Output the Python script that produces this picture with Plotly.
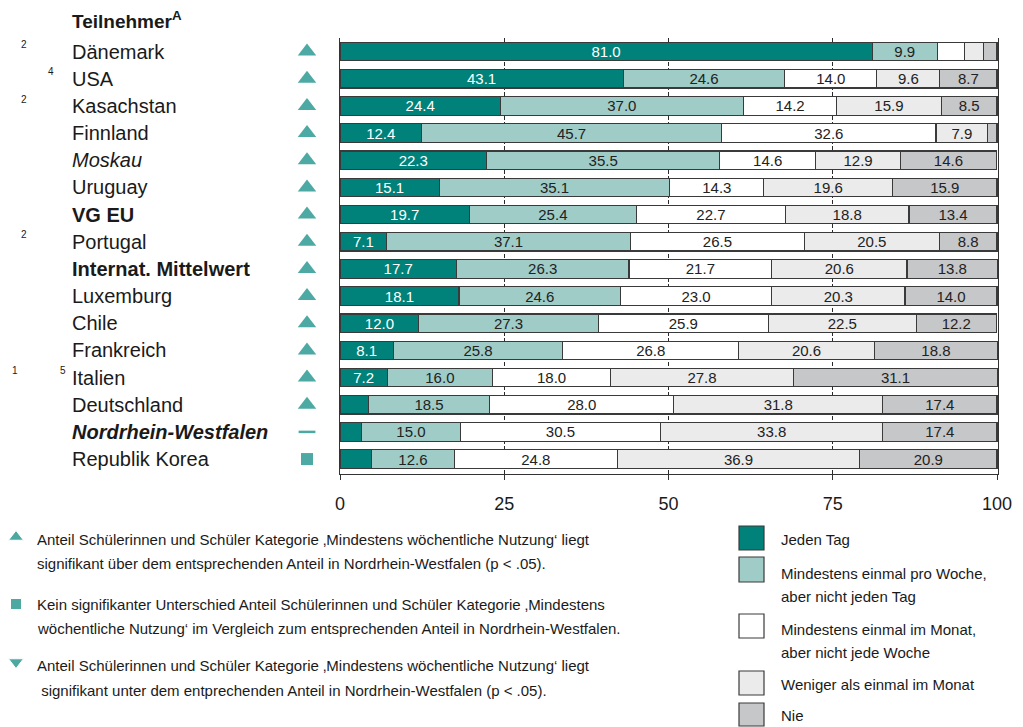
import plotly.graph_objects as go

countries = ["Dänemark", "USA", "Kasachstan", "Finnland", "Moskau", "Uruguay", "VG EU",
             "Portugal", "Internat. Mittelwert", "Luxemburg", "Chile", "Frankreich",
             "Italien", "Deutschland", "Nordrhein-Westfalen", "Republik Korea"]
label_style = ["", "", "", "", "i", "", "b", "", "b", "", "", "", "", "", "bi", ""]
foot_a = ["2", "", "2", "", "", "", "", "2", "", "", "", "", "1", "", "", ""]
foot_b = ["", "4", "", "", "", "", "", "", "", "", "", "", "5", "", "", ""]
signif = ["up", "up", "up", "up", "up", "up", "up", "up", "up", "up", "up", "up", "up", "up", "ref", "same"]

jeden_tag = [81.0, 43.1, 24.4, 12.4, 22.3, 15.1, 19.7, 7.1, 17.7, 18.1, 12.0, 8.1, 7.2, 4.3, 3.3, 4.8]
woche = [9.9, 24.6, 37.0, 45.7, 35.5, 35.1, 25.4, 37.1, 26.3, 24.6, 27.3, 25.8, 16.0, 18.5, 15.0, 12.6]
monat = [4.2, 14.0, 14.2, 32.6, 14.6, 14.3, 22.7, 26.5, 21.7, 23.0, 25.9, 26.8, 18.0, 28.0, 30.5, 24.8]
weniger = [2.9, 9.6, 15.9, 7.9, 12.9, 19.6, 18.8, 20.5, 20.6, 20.3, 22.5, 20.6, 27.8, 31.8, 33.8, 36.9]
nie = [2.0, 8.7, 8.5, 1.4, 14.6, 15.9, 13.4, 8.8, 13.8, 14.0, 12.2, 18.8, 31.1, 17.4, 17.4, 20.9]

series_names = ["Jeden Tag", "Mindestens einmal pro Woche, aber nicht jeden Tag",
                "Mindestens einmal im Monat, aber nicht jede Woche",
                "Weniger als einmal im Monat", "Nie"]
legend_lines = [["Jeden Tag"], ["Mindestens einmal pro Woche,", "aber nicht jeden Tag"],
                ["Mindestens einmal im Monat,", "aber nicht jede Woche"],
                ["Weniger als einmal im Monat"], ["Nie"]]
colors = ["#00827A", "#9FCCC7", "#FFFFFF", "#EBEBEB", "#C6C7C9"]
text_colors = ["#FFFFFF", "#222222", "#222222", "#222222", "#222222"]
x_ticks = [0, 25, 50, 75, 100]

note_texts = [
    ["Anteil Schülerinnen und Schüler Kategorie \u201aMindestens wöchentliche Nutzung\u2018 liegt",
     "signifikant über dem entsprechenden Anteil in Nordrhein-Westfalen (p < .05)."],
    ["Kein signifikanter Unterschied Anteil Schülerinnen und Schüler Kategorie \u201aMindestens",
     "wöchentliche Nutzung\u2018 im Vergleich zum entsprechenden Anteil in Nordrhein-Westfalen."],
    ["Anteil Schülerinnen und Schüler Kategorie \u201aMindestens wöchentliche Nutzung\u2018 liegt",
     "\u00a0signifikant unter dem entprechenden Anteil in Nordrhein-Westfalen (p < .05)."],
]
note_symbols = ["triangle-up", "square", "triangle-down"]

# ---- layout geometry (target page pixels); the page body adds an 8px offset ----
PAGE_W, PAGE_H = 1023, 727
OFF = 8
W, H = PAGE_W - OFF, PAGE_H - OFF
PL, PR, PT, PB = 340, 998, 38, 474
XMAX = 100.15
FONT = "Liberation Sans, Arial, sans-serif"
TEAL = "#00857C"
INK = "#1A1A1A"


def fx(xp):
    return (xp - OFF) / W


def fy(yp):
    return 1 - (yp - OFF) / H


ypos = list(range(len(countries)))
fig = go.Figure()
all_series = [jeden_tag, woche, monat, weniger, nie]
for name, vals, col, tcol in zip(series_names, all_series, colors, text_colors):
    fig.add_trace(go.Bar(
        y=ypos, x=vals, orientation="h", name=name, xaxis="x", yaxis="y",
        marker=dict(color=col, line=dict(color="#3A3A3A", width=1.2)),
        text=[f"{v:.1f}" if v >= 5 else "" for v in vals],
        textposition="inside", insidetextanchor="middle", textangle=0,
        textfont=dict(family=FONT, size=15, color=tcol),
        showlegend=False, hoverinfo="x+name",
    ))

# significance markers (axis covering the label column, in page pixel units)
sym_map = {"up": "triangle-up", "same": "square", "down": "triangle-down", "ref": "line-ew"}
fig.add_trace(go.Scatter(
    x=[307] * len(countries), y=ypos, mode="markers", xaxis="x2", yaxis="y",
    marker=dict(symbol=[sym_map[s] for s in signif],
                size=[16 if s == "up" else 12 for s in signif],
                color=TEAL,
                line=dict(color=TEAL, width=[2.5 if s == "ref" else 0 for s in signif])),
    showlegend=False, hoverinfo="skip",
))

# note symbols (full-figure axis in page pixel units)
note_sym_y = [537, 604, 662]
fig.add_trace(go.Scatter(
    x=[16] * 3, y=note_sym_y, mode="markers", xaxis="x3", yaxis="y3",
    marker=dict(symbol=note_symbols, size=[13, 11, 13], color=TEAL),
    showlegend=False, hoverinfo="skip",
))

annotations = []
for i, (c, st) in enumerate(zip(countries, label_style)):
    t = c
    if "b" in st:
        t = f"<b>{t}</b>"
    if "i" in st:
        t = f"<i>{t}</i>"
    annotations.append(dict(x=fx(70), y=i, xref="paper", yref="y", text=t, showarrow=False,
                            xanchor="left", yanchor="middle",
                            font=dict(family=FONT, size=20, color=INK)))
    if foot_a[i]:
        xa = 10 if foot_b[i] else 18.5
        annotations.append(dict(x=fx(xa), y=i - 0.25, xref="paper", yref="y", text=foot_a[i],
                                showarrow=False, xanchor="left", yanchor="middle",
                                font=dict(family=FONT, size=10, color=INK)))
    if foot_b[i]:
        xb = 58 if foot_a[i] else 46
        annotations.append(dict(x=fx(xb), y=i - 0.25, xref="paper", yref="y", text=foot_b[i],
                                showarrow=False, xanchor="left", yanchor="middle",
                                font=dict(family=FONT, size=10, color=INK)))

annotations.append(dict(x=fx(70), y=fy(20), xref="paper", yref="paper",
                        text="<b>Teilnehmer<sup>A</sup></b>", showarrow=False,
                        xanchor="left", yanchor="middle",
                        font=dict(family=FONT, size=19, color=INK)))

# notes at bottom left
note_y = [[539, 563], [604, 628], [665, 690]]
for lines, ys in zip(note_texts, note_y):
    for line, yy in zip(lines, ys):
        annotations.append(dict(x=fx(35), y=fy(yy), xref="paper", yref="paper", text=line,
                                showarrow=False, xanchor="left", yanchor="middle",
                                font=dict(family=FONT, size=15, color=INK)))

# custom legend at bottom right
shapes = []
box_y = [(526, 551), (557, 583), (614, 639), (671, 696), (703, 727)]
text_y = [[539], [573, 596], [629, 652], [684], [715]]
for col, (y0, y1), lines, tys in zip(colors, box_y, legend_lines, text_y):
    shapes.append(dict(type="rect", xref="paper", yref="paper", x0=fx(739), x1=fx(764),
                       y0=fy(y1 - 1), y1=fy(y0), fillcolor=col,
                       line=dict(color="#3A3A3A", width=1.2)))
    for line, ty in zip(lines, tys):
        annotations.append(dict(x=fx(779), y=fy(ty), xref="paper", yref="paper", text=line,
                                showarrow=False, xanchor="left", yanchor="middle",
                                font=dict(family=FONT, size=15, color=INK)))

fig.update_layout(
    width=W, height=H, autosize=False, barmode="stack", bargap=0.32,
    margin=dict(l=0, r=0, t=0, b=0, pad=0, autoexpand=False),
    paper_bgcolor="white", plot_bgcolor="rgba(0,0,0,0)",
    annotations=annotations, shapes=shapes,
    uniformtext=dict(minsize=15, mode="show"),
    xaxis=dict(domain=[fx(PL), fx(PR)], range=[0, XMAX], anchor="y", automargin=False,
               tickvals=x_ticks, ticktext=[str(v) for v in x_ticks],
               showgrid=True, gridcolor="#2A2A2A", griddash="4px,2px", gridwidth=1,
               showline=True, linecolor="#333333", linewidth=1.2, mirror=False,
               ticks="outside", ticklen=5, tickcolor="#333333", ticklabelstandoff=8,
               tickfont=dict(family=FONT, size=18, color=INK), zeroline=False,
               layer="below traces"),
    yaxis=dict(domain=[fy(PB), fy(PT)], range=[15.55, -0.5], anchor="x", automargin=False,
               showticklabels=False, showgrid=False, zeroline=False,
               showline=True, mirror=True, linecolor="#333333", linewidth=1.2, ticks=""),
    xaxis2=dict(domain=[0, fx(PL)], range=[OFF, PL], anchor="y", visible=False, automargin=False),
    xaxis3=dict(domain=[0, 1], range=[OFF, PAGE_W], anchor="y3", visible=False, automargin=False),
    yaxis3=dict(domain=[0, 1], range=[PAGE_H, OFF], anchor="x3", visible=False, automargin=False),
    font=dict(family=FONT),
)

fig.write_html("out.html", config={"displayModeBar": False})
